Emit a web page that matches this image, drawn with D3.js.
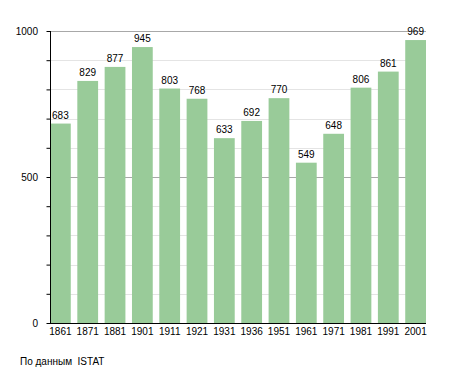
<!DOCTYPE html>
<html>
<head>
<meta charset="utf-8">
<script src="https://cdn.jsdelivr.net/npm/d3@7"></script>
<style>
  body { margin: 0; background: #fff; }
  text { font-family: "Liberation Sans", Arial, sans-serif; font-size: 10px; fill: #000; }
</style>
</head>
<body>
<div id="chart"></div>
<script>
var years = ["1861", "1871", "1881", "1901", "1911", "1921", "1931", "1936", "1951", "1961", "1971", "1981", "1991", "2001"];
var population = [683, 829, 877, 945, 803, 768, 633, 692, 770, 549, 648, 806, 861, 969];
var majorTicks = [0, 500, 1000];
var minorTicks = [100, 200, 300, 400, 600, 700, 800, 900];
var source = "По данным  ISTAT";

var width = 455,
  height = 373;

var plotLeft = 50, plotRight = 426, plotTop = 31, plotBottom = 323;

var svg = d3
  .select("#chart")
  .append("svg")
  .attr("width", width)
  .attr("height", height);

var x = d3.scaleBand()
  .domain(years)
  .range([plotLeft, plotRight])
  .paddingInner(0.24)
  .paddingOuter(0);

var y = d3.scaleLinear()
  .domain([0, 1000])
  .range([plotBottom, plotTop]);

// grid lines
svg.selectAll(".minor")
  .data(minorTicks)
  .enter()
  .append("line")
  .attr("x1", plotLeft)
  .attr("x2", plotRight)
  .attr("y1", d => Math.round(y(d)) + 0.5)
  .attr("y2", d => Math.round(y(d)) + 0.5)
  .attr("stroke", "#e4e4e4");

svg.selectAll(".major")
  .data(majorTicks.filter(d => d > 0))
  .enter()
  .append("line")
  .attr("x1", plotLeft)
  .attr("x2", plotRight)
  .attr("y1", d => Math.round(y(d)) + 0.5)
  .attr("y2", d => Math.round(y(d)) + 0.5)
  .attr("stroke", "#a8a8a8");

// bars
svg.selectAll("rect")
  .data(population)
  .enter()
  .append("rect")
  .attr("x", (d, i) => x(years[i]))
  .attr("width", x.bandwidth())
  .attr("y", d => y(d))
  .attr("height", d => y(0) - y(d))
  .attr("fill", "#99cb99");

// value labels
svg.selectAll(".val")
  .data(population)
  .enter()
  .append("text")
  .attr("class", "val")
  .attr("text-anchor", "middle")
  .attr("x", (d, i) => x(years[i]) + x.bandwidth() / 2)
  .attr("y", d => y(d) - 5)
  .text(d => d);

// y axis
var yAxis = svg.append("g")
  .attr("transform", "translate(" + (plotLeft + 0.5) + ",0)")
  .call(d3.axisLeft(y).tickValues(majorTicks.concat(minorTicks)).tickSize(4).tickFormat(d => majorTicks.includes(d) ? d : ""));
yAxis.select(".domain").attr("d", "M0," + plotTop + "V" + plotBottom).attr("stroke", "#000");
yAxis.selectAll(".tick line").attr("stroke", "#000");
yAxis.selectAll(".tick text").attr("x", -12.5).attr("fill", "#000")
  .style("font-family", "'Liberation Sans', Arial, sans-serif").style("font-size", "10px");

// x axis
var xAxis = svg.append("g")
  .attr("transform", "translate(0," + (plotBottom + 0.5) + ")")
  .call(d3.axisBottom(x).tickSize(0).tickPadding(4));
xAxis.select(".domain").attr("d", "M" + plotLeft + ",0H" + plotRight).attr("stroke", "#000");
xAxis.selectAll(".tick text").attr("fill", "#000")
  .style("font-family", "'Liberation Sans', Arial, sans-serif").style("font-size", "10px");

svg.append("text")
  .attr("x", 20)
  .attr("y", 365)
  .style("white-space", "pre")
  .text(source);
</script>
</body>
</html>
